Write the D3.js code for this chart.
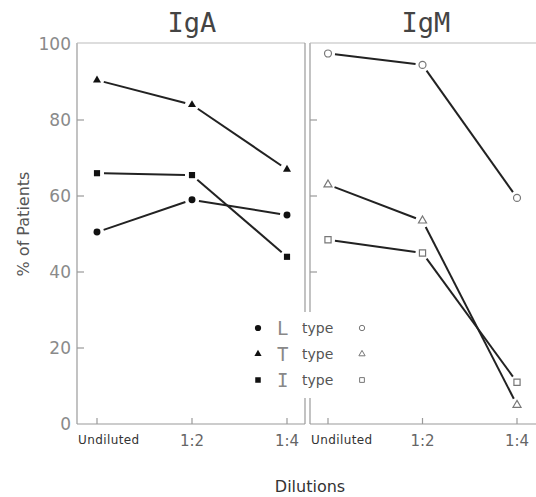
<!DOCTYPE html>
<html>
<head>
<meta charset="utf-8">
<script src="https://cdn.jsdelivr.net/npm/d3@7"></script>
<style>
  body { margin: 0; background: #fff; }
  svg { display: block; }
  text { font-family: "DejaVu Sans", sans-serif; }
</style>
</head>
<body>
<div id="chart"></div>
<script>
// dilution steps
const categories = ["Undiluted", "1:2", "1:4"];
const yTicks = [0, 20, 40, 60, 80, 100];

// IgA (filled markers)
const igaL = [50.5, 59, 55];
const igaT = [90.5, 84, 67];
const igaI = [66, 65.5, 44];

// IgM (open markers)
const igmL = [97.5, 94.5, 59.5];
const igmT = [63, 53.5, 5];
const igmI = [48.5, 45, 11];

const legendLabels = ["L", "T", "I"];

const width = 536, height = 497;
const plotTop = 43, plotBottom = 424;

const svg = d3.select("#chart").append("svg")
  .attr("width", width)
  .attr("height", height);

const y = d3.scaleLinear().domain([0, 100]).range([plotBottom, plotTop + 1]);

const panels = [
  {title: "IgA", left: 77, right: 305, center: 192, filled: true, series: [igaL, igaT, igaI]},
  {title: "IgM", left: 310, right: 536, center: 426, filled: false, series: [igmL, igmT, igmI]}
];
panels[0].x = d3.scalePoint().domain(categories).range([97, 287]);
panels[1].x = d3.scalePoint().domain(categories).range([328, 517]);

const shapes = [d3.symbolCircle, d3.symbolTriangle, d3.symbolSquare];
const shapeSize = [38, 28, 38];
const frameColor = "#9a9a9a";

// frames
panels.forEach(function(p, i){
  const g = svg.append("g");
  g.append("line").attr("x1", p.left).attr("x2", p.left).attr("y1", plotTop).attr("y2", plotBottom)
    .attr("stroke", frameColor).attr("stroke-width", 1.2);
  g.append("line").attr("x1", p.left).attr("x2", p.right).attr("y1", plotTop).attr("y2", plotTop)
    .attr("stroke", "#bbb").attr("stroke-width", 1);
  g.append("line").attr("x1", p.left).attr("x2", p.right).attr("y1", plotBottom).attr("y2", plotBottom)
    .attr("stroke", frameColor).attr("stroke-width", 1.2);
  if (i === 0) {
    g.append("line").attr("x1", p.right).attr("x2", p.right).attr("y1", plotTop).attr("y2", plotBottom)
      .attr("stroke", frameColor).attr("stroke-width", 1.2);
  }
  // y ticks, pointing in
  g.selectAll(".ytick")
    .data(yTicks.filter(function(d){ return d > 0 && d < 100; }))
    .join("line")
      .attr("class", "ytick")
      .attr("x1", p.left)
      .attr("x2", p.left + 7)
      .attr("y1", function(d){ return y(d); })
      .attr("y2", function(d){ return y(d); })
      .attr("stroke", frameColor).attr("stroke-width", 1.2);
  // x ticks, pointing up
  g.selectAll(".xtick")
    .data(categories)
    .join("line")
      .attr("class", "xtick")
      .attr("x1", function(d){ return p.x(d); })
      .attr("x2", function(d){ return p.x(d); })
      .attr("y1", plotBottom).attr("y2", plotBottom - 6)
      .attr("stroke", frameColor).attr("stroke-width", 1.2);
  // x labels
  g.selectAll(".xlab")
    .data(categories)
    .join("text")
      .attr("class", "xlab")
      .attr("x", function(d){ return d === "Undiluted" ? p.left + 1 : p.x(d); })
      .attr("y", function(d){ return d === "Undiluted" ? 444 : 446; })
      .attr("text-anchor", function(d){ return d === "Undiluted" ? "start" : "middle"; })
      .attr("fill", function(d){ return d === "Undiluted" ? "#333" : "#666"; })
      .style("font-size", function(d){ return d === "Undiluted" ? "12px" : "15px"; })
      .style("letter-spacing", function(d){ return d === "Undiluted" ? "0.4px" : "0px"; })
      .text(function(d){ return d; });
  // title
  g.append("text")
    .attr("x", p.center)
    .attr("y", 32)
    .attr("text-anchor", "middle")
    .attr("fill", "#444")
    .style("font-family", "'DejaVu Sans Mono', monospace")
    .style("font-size", "27px")
    .text(p.title);
});

// y tick labels
svg.selectAll(".ylab")
  .data(yTicks)
  .join("text")
    .attr("class", "ylab")
    .attr("x", 71)
    .attr("y", function(d){ return y(d) + 6; })
    .attr("text-anchor", "end")
    .attr("fill", "#8a8a8a")
    .style("font-size", "17px")
    .text(function(d){ return d; });

svg.append("text")
  .attr("transform", "translate(29,224) rotate(-90)")
  .attr("text-anchor", "middle")
  .attr("fill", "#555")
  .style("font-size", "16px")
  .text("% of Patients");

svg.append("text")
  .attr("x", 310).attr("y", 492)
  .attr("text-anchor", "middle")
  .attr("fill", "#333")
  .style("font-size", "16px")
  .text("Dilutions");

// series: segments with gaps at the markers, then markers
const gap = 7;
panels.forEach(function(p){
  p.series.forEach(function(values, s){
    const pts = values.map(function(v, k){ return [p.x(categories[k]), y(v)]; });
    const segs = d3.pairs(pts).map(function(pair){
      const dx = pair[1][0] - pair[0][0], dy = pair[1][1] - pair[0][1];
      const len = Math.sqrt(dx * dx + dy * dy);
      const ux = dx / len, uy = dy / len;
      return [pair[0][0] + ux * gap, pair[0][1] + uy * gap, pair[1][0] - ux * gap, pair[1][1] - uy * gap];
    });
    svg.append("g").selectAll("line")
      .data(segs)
      .join("line")
        .attr("x1", function(d){ return d[0]; })
        .attr("y1", function(d){ return d[1]; })
        .attr("x2", function(d){ return d[2]; })
        .attr("y2", function(d){ return d[3]; })
        .attr("stroke", "#222")
        .attr("stroke-width", 2);
    svg.append("g").selectAll("path")
      .data(pts)
      .join("path")
        .attr("transform", function(d){ return "translate(" + d[0] + "," + d[1] + ")"; })
        .attr("d", d3.symbol().type(shapes[s]).size(shapeSize[s]))
        .attr("fill", p.filled ? "#111" : "#fff")
        .attr("stroke", p.filled ? "none" : "#777")
        .attr("stroke-width", 1.2);
  });
});

// legend, covering the frame between panels
const legend = svg.append("g");
legend.append("rect")
  .attr("x", 250).attr("y", 312).attr("width", 122).attr("height", 86)
  .attr("fill", "#fff");
legendLabels.forEach(function(lab, s){
  const ly = 328 + s * 26;
  legend.append("path")
    .attr("transform", "translate(258," + ly + ")")
    .attr("d", d3.symbol().type(shapes[s]).size(shapeSize[s] * 0.8))
    .attr("fill", "#111");
  legend.append("text")
    .attr("x", 277).attr("y", ly + 7)
    .attr("fill", "#888")
    .style("font-family", "'DejaVu Sans Mono', monospace")
    .style("font-size", "19px")
    .text(lab);
  legend.append("text")
    .attr("x", 302).attr("y", ly + 5)
    .attr("fill", "#555")
    .style("font-size", "14px")
    .text("type");
  legend.append("path")
    .attr("transform", "translate(362," + ly + ")")
    .attr("d", d3.symbol().type(shapes[s]).size(shapeSize[s] * 0.6))
    .attr("fill", "#fff")
    .attr("stroke", "#777")
    .attr("stroke-width", 1);
});
</script>
</body>
</html>
